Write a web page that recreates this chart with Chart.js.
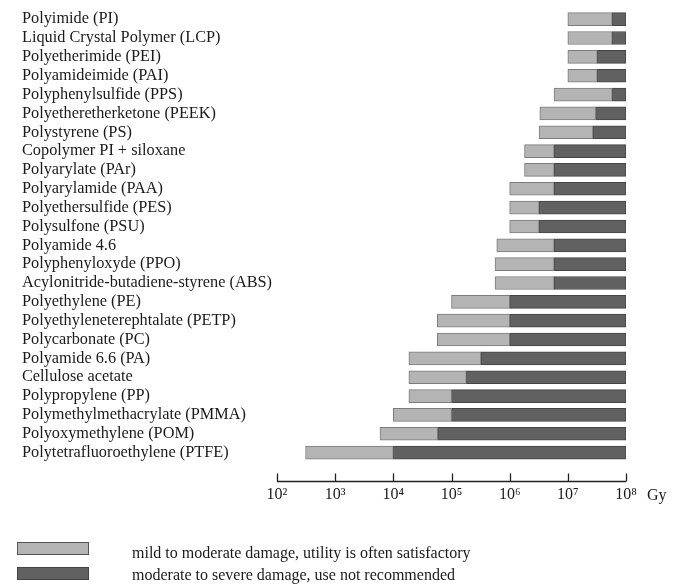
<!DOCTYPE html>
<html>
<head>
<meta charset="utf-8">
<script src="https://cdn.jsdelivr.net/npm/chart.js@4.4.1/dist/chart.umd.min.js"></script>
<style>
  html, body { margin: 0; padding: 0; background: #ffffff; }
  #wrap { position: relative; width: 677px; height: 586px; }
  #chart { position: absolute; left: 0; top: 0; }
  .leg { position: absolute; left: 0; font-family: "Liberation Serif", "Times New Roman", serif; font-size: 16px; color: #1a1a1a; }
  .sw { position: absolute; left: 17px; width: 70px; height: 11px; }
  .lt { position: absolute; left: 132px; white-space: nowrap; line-height: 16px; }
</style>
</head>
<body>
<div id="wrap">
  <canvas id="chart" width="677" height="586"></canvas>
  <div class="leg" style="top:542px;">
    <div class="sw" id="sw1"></div>
    <div class="lt" style="top:2.5px;" id="lt1"></div>
  </div>
  <div class="leg" style="top:567px;">
    <div class="sw" id="sw2"></div>
    <div class="lt" style="top:0px;" id="lt2"></div>
  </div>
</div>
<script>
// ---- data ----
const materials = [
  "Polyimide (PI)",
  "Liquid Crystal Polymer (LCP)",
  "Polyetherimide (PEI)",
  "Polyamideimide (PAI)",
  "Polyphenylsulfide (PPS)",
  "Polyetheretherketone (PEEK)",
  "Polystyrene (PS)",
  "Copolymer PI + siloxane",
  "Polyarylate (PAr)",
  "Polyarylamide (PAA)",
  "Polyethersulfide (PES)",
  "Polysulfone (PSU)",
  "Polyamide 4.6",
  "Polyphenyloxyde (PPO)",
  "Acylonitride-butadiene-styrene (ABS)",
  "Polyethylene (PE)",
  "Polyethyleneterephtalate (PETP)",
  "Polycarbonate (PC)",
  "Polyamide 6.6 (PA)",
  "Cellulose acetate",
  "Polypropylene (PP)",
  "Polymethylmethacrylate (PMMA)",
  "Polyoxymethylene (POM)",
  "Polytetrafluoroethylene (PTFE)"
];
// dose (Gy) where mild-to-moderate damage starts
const mildStart = [1e7, 1e7, 1e7, 1e7, 5.8e6, 3.3e6, 3.2e6, 1.8e6, 1.8e6, 1e6, 1e6, 1e6,
                   6e5, 5.6e5, 5.6e5, 1e5, 5.7e4, 5.7e4, 1.85e4, 1.85e4, 1.85e4, 1e4, 5.9e3, 3.1e2];
// dose (Gy) where moderate-to-severe damage starts
const severeStart = [5.8e7, 5.8e7, 3.2e7, 3.2e7, 5.8e7, 3e7, 2.7e7, 5.8e6, 5.8e6, 5.8e6, 3.2e6, 3.2e6,
                     5.8e6, 5.8e6, 5.8e6, 1e6, 1e6, 1e6, 3.2e5, 1.8e5, 1e5, 1e5, 5.8e4, 1e4];
// end of the scale for the severe damage bars
const severeEnd = [1e8, 1e8, 1e8, 1e8, 1e8, 1e8, 1e8, 1e8, 1e8, 1e8, 1e8, 1e8,
                   1e8, 1e8, 1e8, 1e8, 1e8, 1e8, 1e8, 1e8, 1e8, 1e8, 1e8, 1e8];
const tickValues = [1e2, 1e3, 1e4, 1e5, 1e6, 1e7, 1e8];
const tickLabels = ["10²", "10³", "10⁴", "10⁵", "10⁶", "10⁷", "10⁸"];
const unitLabel = "Gy";
const seriesNames = [
  "mild to moderate damage, utility is often satisfactory",
  "moderate to severe damage, use not recommended"
];

// ---- styles ----
const FONT = '"Liberation Serif", "Times New Roman", serif';
const lightFill = '#b4b4b4', lightBorder = '#7c7c7c';
const darkFill = '#616161', darkBorder = '#444444';

// HTML legend
document.getElementById('sw1').style.cssText += `background:${lightFill};border:1px solid #555;`;
document.getElementById('sw2').style.cssText += `background:${darkFill};border:1px solid #444;`;
document.getElementById('lt1').textContent = seriesNames[0];
document.getElementById('lt2').textContent = seriesNames[1];

const axisPlugin = {
  id: 'axisPlugin',
  afterDraw(chart) {
    const xs = chart.scales.x;
    const ctx = chart.ctx;
    const y = chart.chartArea.bottom + 19.5;
    ctx.save();
    ctx.strokeStyle = '#222';
    ctx.lineWidth = 1.3;
    ctx.beginPath();
    ctx.moveTo(xs.getPixelForValue(tickValues[0]), y);
    ctx.lineTo(xs.getPixelForValue(tickValues[tickValues.length - 1]), y);
    tickValues.forEach(v => {
      const px = Math.round(xs.getPixelForValue(v)) + 0.5;
      ctx.moveTo(px, y);
      ctx.lineTo(px, y - 8);
    });
    ctx.stroke();
    ctx.fillStyle = '#1a1a1a';
    ctx.font = '16px ' + FONT;
    ctx.textBaseline = 'middle';
    ctx.textAlign = 'left';
    ctx.fillText(unitLabel, xs.getPixelForValue(tickValues[tickValues.length - 1]) + 21, y + 14);
    ctx.restore();
  }
};

new Chart(document.getElementById('chart'), {
  type: 'bar',
  data: {
    labels: materials,
    datasets: [
      {
        label: seriesNames[0],
        data: materials.map((_, i) => [mildStart[i], severeStart[i]]),
        backgroundColor: lightFill,
        borderColor: lightBorder,
        borderWidth: 1,
        borderSkipped: false,
        barThickness: 13,
        grouped: false
      },
      {
        label: seriesNames[1],
        data: materials.map((_, i) => [severeStart[i], severeEnd[i]]),
        backgroundColor: darkFill,
        borderColor: darkBorder,
        borderWidth: 1,
        borderSkipped: false,
        barThickness: 13,
        grouped: false
      }
    ]
  },
  options: {
    indexAxis: 'y',
    responsive: false,
    animation: false,
    layout: { padding: { top: 2, left: 22, right: 51, bottom: 79 } },
    plugins: {
      legend: { display: false },
      tooltip: { enabled: false }
    },
    scales: {
      x: {
        type: 'logarithmic',
        min: tickValues[0],
        max: tickValues[tickValues.length - 1],
        afterBuildTicks(scale) {
          scale.ticks = tickValues.map(v => ({ value: v }));
        },
        afterFit(scale) { scale.height = 45; },
        border: { display: false },
        grid: { display: true, drawOnChartArea: false, drawTicks: true, tickLength: 19, color: 'rgba(0,0,0,0)' },
        ticks: {
          autoSkip: false,
          maxRotation: 0,
          padding: 4,
          color: '#1a1a1a',
          font: { family: FONT, size: 16 },
          callback(value, index) { return tickLabels[index]; }
        }
      },
      y: {
        afterFit(scale) { scale.width = 255; },
        border: { display: false },
        grid: { display: false },
        ticks: {
          crossAlign: 'far',
          autoSkip: false,
          padding: 0,
          color: '#1a1a1a',
          font: { family: FONT, size: 16.3 }
        }
      }
    }
  },
  plugins: [axisPlugin]
});
</script>
</body>
</html>
